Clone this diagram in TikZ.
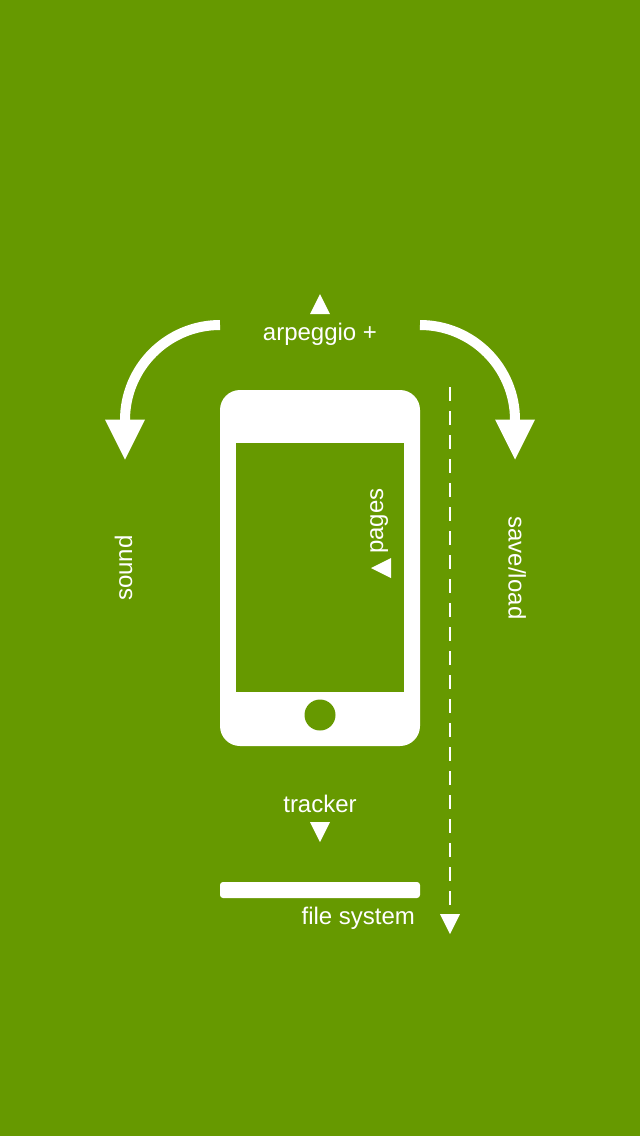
\documentclass[tikz,border=0pt]{standalone}
\usepackage{fontspec}
\setmainfont{Liberation Sans}
\definecolor{bggreen}{HTML}{669900}
\tikzset{
  x=1pt,y=-1pt,
  label text/.style={text=white,font=\fontsize{24}{28}\selectfont,inner sep=0pt,outer sep=0pt},
  solid white/.style={fill=white,draw=none},
  arc line/.style={draw=white,line width=10pt},
  dash line/.style={draw=white,line width=2pt,dash pattern=on 14pt off 10pt}
}
\begin{document}
\begin{tikzpicture}
\useasboundingbox (0,0) rectangle (640,1136);
\fill[bggreen] (0,0) rectangle (640,1136);
% phone body
\fill[white] (220,410) arc[start angle=180,end angle=270,radius=20] -- (400,390)
  arc[start angle=-90,end angle=0,radius=20] -- (420,726)
  arc[start angle=0,end angle=90,radius=20] -- (240,746)
  arc[start angle=90,end angle=180,radius=20] -- cycle;
\fill[bggreen] (236,443) rectangle (404,692);
\fill[bggreen] (320,715) circle[radius=15.5];
% file system bar
\fill[white,rounded corners=3pt] (220,882) rectangle (420,898);
% curved arrows
\coordinate (leftstart) at (220,325);
\coordinate (rightstart) at (420,325);
\draw[arc line] (leftstart) arc[start angle=-90,end angle=-180,radius=95];
\draw[arc line] (rightstart) arc[start angle=-90,end angle=0,radius=95];
\fill[solid white] (105,419.5) -- (145,419.5) -- (125,459.5) -- cycle;
\fill[solid white] (495,419.5) -- (535,419.5) -- (515,459.5) -- cycle;
% small triangles
\fill[solid white] (310,314) -- (330,314) -- (320,294) -- cycle;
\fill[solid white] (310,822) -- (330,822) -- (320,842) -- cycle;
\fill[solid white] (391,558) -- (391,578) -- (371,568) -- cycle;
\fill[solid white] (440,914) -- (460,914) -- (450,934) -- cycle;
% dashed line
\coordinate (dashstart) at (450,387);
\coordinate (dashend) at (450,905);
\draw[dash line] (dashstart) -- (dashend);
% labels
\node[label text,anchor=base] (arp) at (320,340) {arpeggio +};
\node[label text,anchor=base] (tracker) at (320,812) {tracker};
\node[label text,anchor=base east] (fs) at (415,924) {file system};
\node[label text,anchor=base,rotate=90] (pages) at (383,521) {pages};
\node[label text,anchor=base,rotate=-90] (save) at (508.5,568) {save/load};
\node[label text,anchor=base,rotate=90] (sound) at (132,568) {sound};
\end{tikzpicture}
\end{document}
